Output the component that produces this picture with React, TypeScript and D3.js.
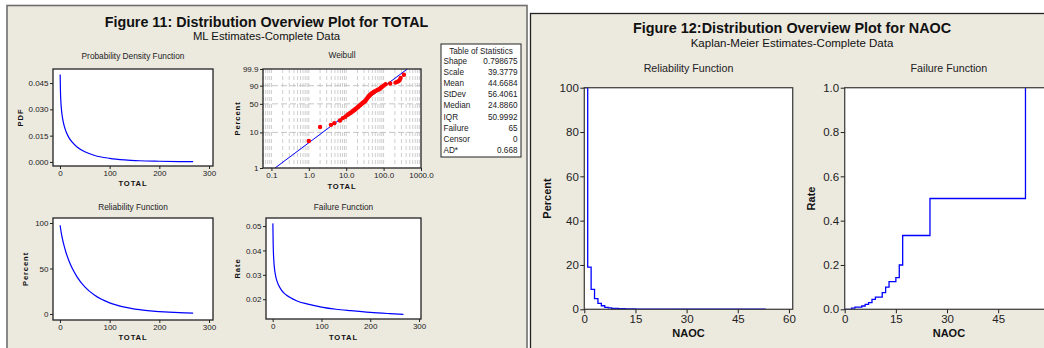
import React, { useEffect, useRef } from 'react';
import * as d3 from 'd3';

const FONT = '"Liberation Sans", Arial, sans-serif';
const PANEL_BG = '#ECE9DF';
const BLUE = '#0000FF';

// ---- Figure 11 (TOTAL): fitted Weibull curves ----
const curveX = [0.4, 1, 2, 3, 5, 8, 12, 18, 25, 35, 50, 70, 100, 130, 160, 200, 240, 268];
const pdfY = [0.0498, 0.0403, 0.0337, 0.03, 0.0254, 0.0211, 0.0175, 0.0139, 0.0111, 0.0084, 0.0058, 0.0037, 0.0021, 0.0012, 0.0007, 0.0004, 0.0002, 0.00014];
const reliabilityY = [97.5, 94.8, 91.2, 88.0, 82.5, 75.6, 67.9, 58.6, 49.9, 40.3, 29.8, 20.5, 12.2, 7.5, 4.7, 2.6, 1.4, 1.0];
const hazardY = [0.0511, 0.0425, 0.037, 0.034, 0.0307, 0.0279, 0.0258, 0.0237, 0.0222, 0.0208, 0.0193, 0.0181, 0.0168, 0.0159, 0.0153, 0.0146, 0.0141, 0.0138];

// Weibull probability plot points (TOTAL value, plotted percent)
const probX = [1, 2, 3.9, 4.8, 6.8, 8.1, 9.5, 10.8, 11.5, 12.5, 13.5, 14.6, 15.5, 16.5, 17.5, 18.5, 19.9, 21, 22, 23.5, 25, 27, 28.5, 30, 31.5, 33, 34.5, 36.6, 38, 40, 42, 44, 47, 50, 53, 56, 60, 65, 70, 75, 80, 85, 90, 100, 113, 150, 208, 230, 250, 270, 285, 349];
const probPct = [5.8, 14, 15.9, 17.6, 20.6, 23.7, 25.5, 28.5, 29.5, 31, 32.5, 34.1, 35.5, 37, 38.5, 40, 42, 43.5, 45, 47, 49, 51.5, 53, 54.5, 56, 58, 60.5, 63.7, 66, 68, 70, 72, 74, 75.6, 77, 78.5, 80, 81.5, 82.7, 83.5, 85, 86.5, 88, 90, 92, 93, 94, 94.8, 95.5, 96.5, 97.8, 99.1];
const fitLineX = [0.125, 430];
const fitLinePct = [1, 99.9];

const probTicks = [1, 10, 50, 90, 99.9];
const probTickLabels = ['1', '10', '50', '90', '99.9'];
const logTicks = [0.1, 1, 10, 100, 1000];
const logTickLabels = ['0.1', '1.0', '10.0', '100.0', '1000.0'];

const statLabels = ['Shape', 'Scale', 'Mean', 'StDev', 'Median', 'IQR', 'Failure', 'Censor', 'AD*'];
const statValues = ['0.798675', '39.3779', '44.6684', '56.4061', '24.8860', '50.9992', '65', '0', '0.668'];

// ---- Figure 12 (NAOC): Kaplan-Meier step functions ----
const kmRelX = [0, 1, 2, 3, 4, 5, 6, 7, 8, 10, 12, 15, 17, 25, 53];
const kmRelY = [100, 19, 9, 4.8, 2.7, 1.6, 0.9, 0.6, 0.35, 0.25, 0.18, 0.08, 0.05, 0.03, 0];
const kmFailX = [0, 2, 3, 5, 6, 7, 8, 9, 11, 12, 13, 15, 16, 17, 25, 53];
const kmFailY = [0, 0.005, 0.01, 0.015, 0.022, 0.03, 0.045, 0.055, 0.075, 0.1, 0.125, 0.143, 0.2, 0.333, 0.5, 1.0];

const wbl = (p: number) => Math.log(-Math.log(1 - p / 100));

type G = d3.Selection<SVGGElement, unknown, null, undefined>;

interface FrameOpts {
  id: string;
  box: [number, number, number, number];
  x: any;
  y: any;
  xTicks: number[];
  yTicks: number[];
  xFmt: (d: any, i: number) => string;
  yFmt: (d: any, i: number) => string;
  fs: number;
  tick: number;
  pad: number;
  title: string;
  titleY: number;
  titleFs: number;
  xLabel: string;
  xLabelY: number;
  yLabel: string;
  yLabelX: number;
  labelFs: number;
  spacing: number;
  stroke: string;
}

function frame(root: G, o: FrameOpts, content: (g: G) => void) {
  const [x0, y0, x1, y1] = o.box;
  const g = root.append('g');
  g.append('rect').attr('x', x0).attr('y', y0).attr('width', x1 - x0).attr('height', y1 - y0).attr('fill', '#fff');

  g.append('clipPath').attr('id', o.id)
    .append('rect').attr('x', x0 - 1).attr('y', y0 - 1).attr('width', x1 - x0 + 2).attr('height', y1 - y0 + 2);
  const inner = g.append('g').attr('clip-path', `url(#${o.id})`);
  content(inner);

  g.append('rect').attr('x', x0).attr('y', y0).attr('width', x1 - x0).attr('height', y1 - y0)
    .attr('fill', 'none').attr('stroke', o.stroke).attr('stroke-width', 1.3);

  const xa = g.append('g').attr('transform', `translate(0,${y1})`)
    .call(d3.axisBottom(o.x).tickValues(o.xTicks).tickFormat(o.xFmt as any).tickSize(o.tick).tickPadding(o.pad));
  const ya = g.append('g').attr('transform', `translate(${x0},0)`)
    .call(d3.axisLeft(o.y).tickValues(o.yTicks).tickFormat(o.yFmt as any).tickSize(o.tick).tickPadding(o.pad));
  [xa, ya].forEach((a) => {
    a.select('.domain').remove();
    a.attr('font-family', FONT).attr('font-size', o.fs);
    a.selectAll('text').attr('fill', '#222');
    a.selectAll('line').attr('stroke', '#222');
  });

  const cx = (x0 + x1) / 2;
  const cy = (y0 + y1) / 2;
  g.append('text').attr('x', cx).attr('y', o.titleY).attr('text-anchor', 'middle')
    .attr('font-family', FONT).attr('font-size', o.titleFs).attr('fill', '#222').text(o.title);
  g.append('text').attr('x', cx).attr('y', o.xLabelY).attr('text-anchor', 'middle')
    .attr('font-family', FONT).attr('font-size', o.labelFs).attr('font-weight', 'bold')
    .attr('letter-spacing', o.spacing).attr('fill', '#111').text(o.xLabel);
  g.append('text').attr('transform', `translate(${o.yLabelX},${cy}) rotate(-90)`).attr('text-anchor', 'middle')
    .attr('font-family', FONT).attr('font-size', o.labelFs).attr('font-weight', 'bold')
    .attr('letter-spacing', o.spacing).attr('fill', '#111').text(o.yLabel);
}

const App: React.FC = () => {
  const ref = useRef<SVGSVGElement>(null);

  useEffect(() => {
    const svg = d3.select(ref.current);
    svg.selectAll('*').remove();
    const root = svg.append('g') as G;

    // panel backgrounds
    root.append('rect').attr('x', 7).attr('y', 5.5).attr('width', 520).attr('height', 380)
      .attr('fill', PANEL_BG).attr('stroke', '#6e6e6e').attr('stroke-width', 1.6);
    root.append('rect').attr('x', 530.5).attr('y', 13.5).attr('width', 600).attr('height', 380)
      .attr('fill', PANEL_BG).attr('stroke', '#222').attr('stroke-width', 1.3);

    // ---------- Figure 11 ----------
    root.append('text').attr('x', 266.5).attr('y', 26.5).attr('text-anchor', 'middle')
      .attr('font-family', FONT).attr('font-size', 14.3).attr('font-weight', 'bold').attr('fill', '#111')
      .text('Figure 11: Distribution Overview Plot for TOTAL');
    root.append('text').attr('x', 266.5).attr('y', 39.5).attr('text-anchor', 'middle')
      .attr('font-family', FONT).attr('font-size', 11.3).attr('fill', '#111')
      .text('ML Estimates-Complete Data');

    const small = { fs: 8, tick: 3, pad: 1.5, titleFs: 8.3, labelFs: 7.6, spacing: 0.9, stroke: '#222' };
    const curve = (vals: number[]) => curveX.map((v, i) => [v, vals[i]] as [number, number]);

    // PDF
    const xPdf = d3.scaleLinear().domain([-14, 308]).range([53, 213]);
    const yPdf = d3.scaleLinear().domain([-0.0023, 0.053]).range([166, 69]);
    frame(root, {
      ...small, id: 'c-pdf', box: [53, 69, 213, 166], x: xPdf, y: yPdf,
      xTicks: [0, 100, 200, 300], yTicks: [0, 0.015, 0.03, 0.045],
      xFmt: (d) => String(d), yFmt: (d) => d3.format('.3f')(d),
      title: 'Probability  Density  Function', titleY: 58.5, xLabel: 'TOTAL', xLabelY: 185.5,
      yLabel: 'PDF', yLabelX: 22.5,
    }, (g) => {
      g.append('path').datum(curve(pdfY)).attr('fill', 'none').attr('stroke', BLUE).attr('stroke-width', 1.2)
        .attr('d', d3.line<[number, number]>().x((d) => xPdf(d[0])).y((d) => yPdf(d[1])).curve(d3.curveMonotoneX));
    });

    // Weibull probability plot
    const xW = d3.scaleLog().domain([0.0595, 1000]).range([263, 421]);
    const yW = d3.scaleLinear().domain([wbl(1), wbl(99.9)]).range([168, 69]);
    frame(root, {
      ...small, id: 'c-wbl', box: [263, 69, 421, 168], x: xW, y: yW,
      xTicks: logTicks, yTicks: probTicks.map(wbl),
      xFmt: (_d, i) => logTickLabels[i], yFmt: (_d, i) => probTickLabels[i],
      title: 'Weibull', titleY: 58.3, xLabel: 'TOTAL', xLabelY: 188.5,
      yLabel: 'Percent', yLabelX: 239.5,
    }, (g) => {
      const grid: number[] = [];
      [0.01, 0.1, 1, 10, 100].forEach((dec) => d3.range(1, 10).forEach((m) => {
        const v = m * dec;
        if (v > 0.0595 && v < 1000) grid.push(v);
      }));
      g.selectAll('line.vg').data(grid).enter().append('line')
        .attr('x1', (d) => xW(d)).attr('x2', (d) => xW(d)).attr('y1', 69).attr('y2', 168)
        .attr('stroke', '#c8c8c8').attr('stroke-width', 0.9).attr('stroke-dasharray', '4,3');
      g.selectAll('line.hg').data([10, 50, 90]).enter().append('line')
        .attr('x1', 263).attr('x2', 421).attr('y1', (d) => yW(wbl(d))).attr('y2', (d) => yW(wbl(d)))
        .attr('stroke', '#c0c0c0').attr('stroke-width', 0.9).attr('stroke-dasharray', '6,3');
      g.append('line')
        .attr('x1', xW(fitLineX[0])).attr('y1', yW(wbl(fitLinePct[0])))
        .attr('x2', xW(fitLineX[1])).attr('y2', yW(wbl(fitLinePct[1])))
        .attr('stroke', BLUE).attr('stroke-width', 1);
      g.selectAll('circle').data(probX).enter().append('circle')
        .attr('cx', (d) => xW(d)).attr('cy', (_d, i) => yW(wbl(probPct[i])))
        .attr('r', 2.2).attr('fill', '#FF0000');
    });

    // Table of statistics
    const tb = root.append('g');
    tb.append('rect').attr('x', 441).attr('y', 44).attr('width', 80).attr('height', 113)
      .attr('fill', '#fff').attr('stroke', '#222').attr('stroke-width', 1);
    tb.append('text').attr('x', 481).attr('y', 54).attr('text-anchor', 'middle')
      .attr('font-family', FONT).attr('font-size', 8.2).attr('fill', '#222').text('Table of Statistics');
    statLabels.forEach((lab, i) => {
      const yy = 64 + i * 11.1;
      tb.append('text').attr('x', 443.5).attr('y', yy).attr('font-family', FONT).attr('font-size', 8.2)
        .attr('fill', '#222').text(lab);
      tb.append('text').attr('x', 517.5).attr('y', yy).attr('text-anchor', 'end').attr('font-family', FONT)
        .attr('font-size', 8.2).attr('fill', '#222').text(statValues[i]);
    });

    // Reliability function
    const xRel = d3.scaleLinear().domain([-14, 308]).range([53, 213]);
    const yRel = d3.scaleLinear().domain([-6.6, 105.5]).range([320, 218]);
    frame(root, {
      ...small, id: 'c-rel', box: [53, 218, 213, 320], x: xRel, y: yRel,
      xTicks: [0, 100, 200, 300], yTicks: [0, 50, 100],
      xFmt: (d) => String(d), yFmt: (d) => String(d),
      title: 'Reliability Function', titleY: 210, xLabel: 'TOTAL', xLabelY: 339.5,
      yLabel: 'Percent', yLabelX: 28.3,
    }, (g) => {
      g.append('path').datum(curve(reliabilityY)).attr('fill', 'none').attr('stroke', BLUE).attr('stroke-width', 1.2)
        .attr('d', d3.line<[number, number]>().x((d) => xRel(d[0])).y((d) => yRel(d[1])).curve(d3.curveMonotoneX));
    });

    // Failure (hazard) function
    const xHz = d3.scaleLinear().domain([-13.7, 304]).range([266, 421]);
    const yHz = d3.scaleLinear().domain([0.0119, 0.0533]).range([319, 218]);
    frame(root, {
      ...small, id: 'c-hz', box: [266, 218, 421, 319], x: xHz, y: yHz,
      xTicks: [0, 100, 200, 300], yTicks: [0.02, 0.03, 0.04, 0.05],
      xFmt: (d) => String(d), yFmt: (d) => d3.format('.2f')(d),
      title: 'Failure Function', titleY: 210, xLabel: 'TOTAL', xLabelY: 339.5,
      yLabel: 'Rate', yLabelX: 239.5,
    }, (g) => {
      g.append('path').datum(curve(hazardY)).attr('fill', 'none').attr('stroke', BLUE).attr('stroke-width', 1.2)
        .attr('d', d3.line<[number, number]>().x((d) => xHz(d[0])).y((d) => yHz(d[1])).curve(d3.curveMonotoneX));
    });

    // ---------- Figure 12 ----------
    root.append('text').attr('x', 792).attr('y', 33.3).attr('text-anchor', 'middle')
      .attr('font-family', FONT).attr('font-size', 14.4).attr('font-weight', 'bold').attr('fill', '#111')
      .text('Figure 12:Distribution Overview Plot for NAOC');
    root.append('text').attr('x', 792).attr('y', 46.7).attr('text-anchor', 'middle')
      .attr('font-family', FONT).attr('font-size', 11.5).attr('fill', '#111')
      .text('Kaplan-Meier Estimates-Complete Data');

    const big = { fs: 11.5, tick: 4, pad: 1.5, titleFs: 10.7, labelFs: 11, spacing: 0, stroke: '#444' };

    const xK1 = d3.scaleLinear().domain([0, 61.1]).range([584.3, 792.7]);
    const yK1 = d3.scaleLinear().domain([0, 100]).range([309.3, 87.7]);
    frame(root, {
      ...big, id: 'c-km1', box: [584.3, 87.7, 792.7, 309.3], x: xK1, y: yK1,
      xTicks: [0, 15, 30, 45, 60], yTicks: [0, 20, 40, 60, 80, 100],
      xFmt: (d) => String(d), yFmt: (d) => String(d),
      title: 'Reliability Function', titleY: 72, xLabel: 'NAOC', xLabelY: 336.5,
      yLabel: 'Percent', yLabelX: 550.7,
    }, (g) => {
      g.append('path').datum(kmRelX.map((v, i) => [v, kmRelY[i]] as [number, number]))
        .attr('fill', 'none').attr('stroke', BLUE).attr('stroke-width', 1.3)
        .attr('d', d3.line<[number, number]>().x((d) => xK1(d[0])).y((d) => yK1(d[1])).curve(d3.curveStepAfter));
    });

    // this panel runs off the right edge of the picture, so its 60 tick is not shown
    const xK2 = d3.scaleLinear().domain([0, 61.1]).range([844.7, 1053.1]);
    const yK2 = d3.scaleLinear().domain([0, 1]).range([309.3, 87.7]);
    frame(root, {
      ...big, id: 'c-km2', box: [844.7, 87.7, 1053.1, 309.3], x: xK2, y: yK2,
      xTicks: [0, 15, 30, 45], yTicks: [0, 0.2, 0.4, 0.6, 0.8, 1.0],
      xFmt: (d) => String(d), yFmt: (d) => d3.format('.1f')(d),
      title: 'Failure Function', titleY: 72, xLabel: 'NAOC', xLabelY: 336.5,
      yLabel: 'Rate', yLabelX: 815,
    }, (g) => {
      g.append('path').datum(kmFailX.map((v, i) => [v, kmFailY[i]] as [number, number]))
        .attr('fill', 'none').attr('stroke', BLUE).attr('stroke-width', 1.3)
        .attr('d', d3.line<[number, number]>().x((d) => xK2(d[0])).y((d) => yK2(d[1])).curve(d3.curveStepAfter));
    });

    return () => {
      svg.selectAll('*').remove();
    };
  }, []);

  return (
    <svg
      ref={ref}
      width={1044}
      height={348}
      style={{ position: 'absolute', left: 0, top: 0, background: '#fff' }}
    />
  );
};

export default App;
